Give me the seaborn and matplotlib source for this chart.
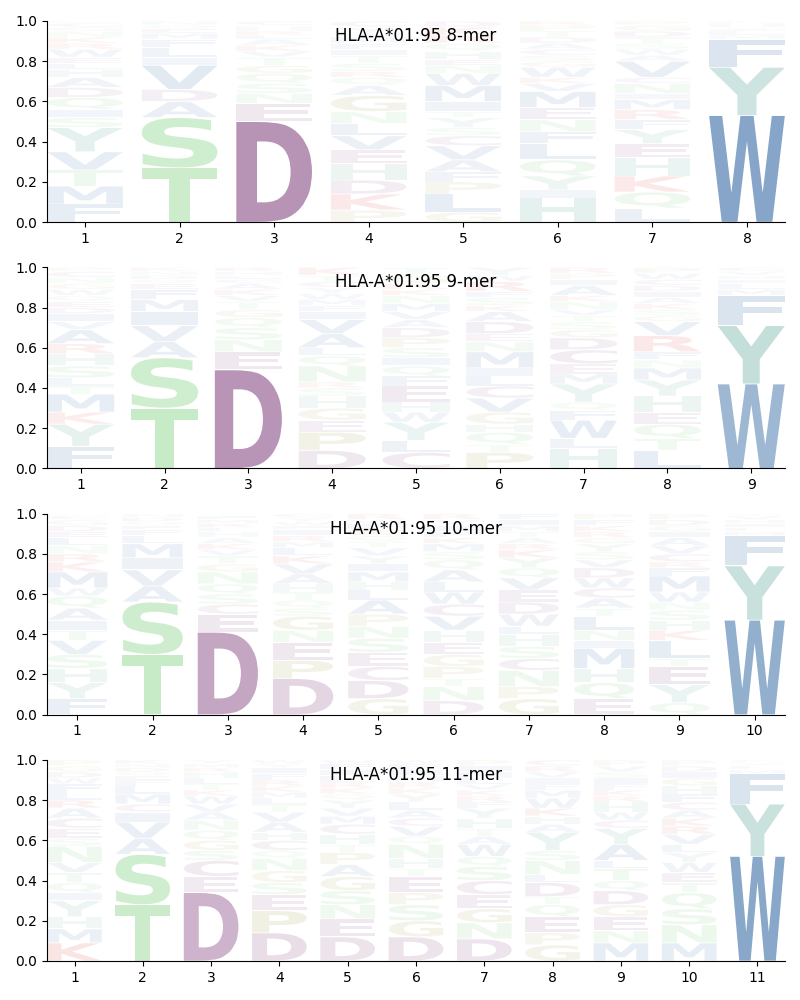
import seaborn as sns
import matplotlib
matplotlib.use("Agg")
import matplotlib.pyplot as plt
from matplotlib.textpath import TextPath
from matplotlib.font_manager import FontProperties
from matplotlib.patches import PathPatch
from matplotlib.transforms import Affine2D

# allele name and peptide lengths
allele = "HLA-A*01:95"
lengths = [8, 9, 10, 11]

# letters of each column, bottom to top, with heights in percent
letters_8 = ["FMTVYSIQDAHLEWRKNGCP", "TSADVILFMEQN", "DENSQGTVKALRHMC",
             "PKDHEVLNGAQRSTIFMWYC", "GLPFAVCSYTIMWNEHQRKD", "HIYQLFNEMVKWGSCADTPR",
             "LQKHEYFRMINCVAWSTDGP", "WYFMLIVHC"]
heights_8 = [[9, 9, 8, 9, 12, 5, 4, 6, 5, 5, 4, 3, 3, 4, 3, 3, 3, 2, 2, 1],
             [27, 25, 8, 6, 12, 4, 5, 4, 3, 2, 2, 2],
             [50, 9, 5, 5, 5, 4, 4, 3, 3, 3, 2, 2, 2, 1, 2],
             [6, 8, 7, 8, 7, 7, 6, 6, 8, 5, 4, 3, 4, 4, 3, 3, 3, 2, 3, 3],
             [5, 9, 6, 5, 6, 7, 5, 4, 5, 3, 5, 8, 6, 4, 3, 4, 4, 4, 4, 3],
             [12, 4, 7, 8, 8, 6, 6, 6, 8, 4, 3, 5, 3, 3, 3, 3, 3, 3, 3, 2],
             [7, 8, 8, 9, 7, 7, 5, 5, 5, 3, 5, 3, 8, 3, 3, 3, 3, 3, 3, 2],
             [53, 24, 14, 2, 2, 1, 1, 2, 1]]

letters_9 = ["FYKMTLSHRAVIDEQWGNCP", "TSAVIMFEQDNK", "DENSQGTVKACLHR",
             "DPEGHSRNQLAVIFMWYCTK", "CLYWHEFQISPDAVMNKRGT", "PTQHGVCLIMNEDAKSFRWY",
             "HLWFQYMECDGSTVNKAIPR", "LTQEHYMNFRVGSKAIDCWP", "WYFMLIHVC"]
heights_9 = [[11, 11, 6, 9, 4, 4, 6, 6, 5, 7, 4, 4, 3, 3, 3, 3, 3, 3, 3, 2],
             [30, 25, 8, 8, 7, 6, 5, 3, 2, 2, 2, 2],
             [49, 9, 6, 6, 5, 4, 4, 3, 3, 3, 2, 2, 2, 2],
             [9, 9, 6, 6, 6, 4, 3, 8, 5, 4, 7, 7, 4, 3, 3, 3, 3, 3, 3, 4],
             [8, 6, 9, 5, 5, 8, 5, 5, 4, 5, 5, 5, 4, 4, 4, 4, 3, 3, 4, 4],
             [8, 4, 6, 4, 6, 7, 6, 5, 4, 8, 5, 4, 6, 5, 3, 4, 3, 5, 3, 4],
             [10, 5, 9, 5, 4, 9, 5, 5, 7, 6, 4, 4, 3, 3, 4, 3, 5, 3, 3, 3],
             [9, 6, 7, 6, 8, 8, 6, 4, 4, 8, 7, 3, 3, 3, 3, 3, 3, 3, 3, 3],
             [42, 29, 15, 3, 3, 2, 2, 2, 2]]

letters_10 = ["FYHSVTIAQWMKRNLEDGCP", "TSAVIMLFEQDN", "DECSQNGTVKAHLRMFY",
              "DPENGSQTHAVKLMRIFWYC", "GDCESNPALHMIYVTQKFWR", "DNTPGEHVCWLAQSMKFIYR",
              "GPNCSHLWDEVQYKRATMIF", "EQHMINLTACWDVSYGRKFP", "QYETLKHSNWMFRCVAIGDP",
              "WYFMLIHVC"]
heights_10 = [[8, 8, 7, 7, 7, 5, 5, 6, 6, 4, 8, 5, 4, 4, 4, 3, 3, 3, 2, 1],
              [30, 26, 8, 8, 6, 7, 4, 3, 2, 2, 2, 2],
              [41, 9, 5, 5, 5, 6, 4, 4, 3, 3, 3, 3, 2, 2, 2, 2, 1],
              [18, 9, 9, 6, 7, 4, 4, 4, 4, 5, 5, 4, 4, 3, 3, 3, 2, 2, 2, 2],
              [8, 9, 7, 7, 7, 6, 6, 7, 5, 4, 5, 4, 4, 4, 3, 3, 3, 3, 2, 3],
              [7, 7, 4, 6, 6, 6, 6, 7, 6, 6, 5, 6, 5, 4, 4, 3, 3, 3, 3, 3],
              [8, 6, 8, 6, 6, 6, 4, 6, 6, 6, 6, 5, 5, 4, 3, 3, 3, 3, 3, 3],
              [8, 8, 7, 10, 4, 5, 7, 4, 5, 5, 5, 5, 4, 4, 4, 3, 3, 3, 3, 3],
              [6, 9, 9, 4, 9, 5, 5, 5, 4, 5, 8, 4, 3, 4, 4, 4, 3, 3, 3, 3],
              [47, 27, 15, 2, 2, 2, 2, 2, 1]]

letters_11 = ["KMHYIQTVNSECARLFWDGP", "TSAVICMLFEQDNK", "DECSGQNAVWKTLHRMY",
              "DPESGNQCHAVTLMKRFIYW", "DENSGAPTHCMVYQKRLIFW", "DGSPETHNQVCALYKRMIFW",
              "DNGECSQWATHYFRKVLMIP", "GPEQTDLNSYAHKWMFIVRC", "MNEGDQTLAYCWHRKFISVP",
              "MNSQTEWYLVRKACFHGIDP", "WYFMLIHC"]
heights_11 = [[9, 7, 6, 8, 4, 5, 5, 5, 8, 4, 5, 5, 5, 4, 4, 4, 3, 3, 3, 3],
              [28, 25, 8, 8, 5, 4, 5, 4, 3, 2, 2, 2, 2, 2],
              [34, 8, 8, 5, 5, 5, 5, 4, 4, 4, 3, 3, 3, 3, 2, 2, 2],
              [14, 11, 8, 6, 6, 6, 4, 5, 4, 5, 5, 4, 3, 3, 3, 3, 3, 3, 2, 2],
              [12, 9, 7, 7, 7, 6, 6, 4, 5, 5, 4, 4, 4, 3, 3, 3, 3, 3, 3, 2],
              [12, 8, 8, 6, 8, 4, 5, 7, 4, 5, 4, 4, 4, 4, 3, 3, 3, 3, 3, 2],
              [11, 8, 7, 7, 7, 7, 5, 6, 4, 4, 5, 5, 3, 3, 3, 3, 3, 3, 3, 3],
              [8, 6, 8, 6, 4, 7, 4, 7, 5, 9, 4, 4, 4, 5, 4, 3, 3, 3, 3, 3],
              [9, 6, 7, 6, 7, 5, 6, 4, 8, 8, 4, 4, 5, 3, 3, 3, 3, 3, 3, 3],
              [9, 9, 8, 8, 5, 5, 5, 5, 4, 5, 4, 4, 4, 4, 4, 4, 4, 3, 3, 3],
              [52, 26, 15, 2, 2, 1, 1, 1]]

all_letters = [letters_8, letters_9, letters_10, letters_11]
all_heights = [heights_8, heights_9, heights_10, heights_11]

# amino acid colours
blue = "#215b9b"
green = "#4ebe4e"
purple = "#742d70"
red = "#d71111"
teal = "#419886"
olive = "#8a8a20"
aa_colors = {"A": blue, "V": blue, "L": blue, "I": blue, "M": blue, "F": blue, "W": blue,
             "S": green, "T": green, "N": green, "Q": green,
             "D": purple, "E": purple, "C": purple,
             "K": red, "R": red,
             "H": teal, "Y": teal,
             "G": olive, "P": olive}

sns.set_style("ticks", {"axes.edgecolor": "black", "text.color": "black",
                        "xtick.color": "black", "ytick.color": "black"})
font = FontProperties(family="DejaVu Sans", weight="bold")


def draw_letter(ax, ch, x, y0, h, width=0.8):
    tp = TextPath((0, 0), ch, size=1, prop=font)
    bb = tp.get_extents()
    # small gap between stacked letters
    pad = 0.004
    tr = Affine2D().translate(-bb.x0, -bb.y0).scale(width / bb.width, (h - pad) / bb.height).translate(x - width / 2, y0 + pad / 2)
    path = tr.transform_path(tp)
    ax.add_patch(PathPatch(path, fc=aa_colors[ch], ec="none", alpha=min(1.0, 0.015 + h)))


fig, axes = plt.subplots(4, 1, figsize=(8, 10), dpi=100)
fig.subplots_adjust(left=0.059, right=0.981, top=0.979, bottom=0.039, hspace=0.224)

for ax, n, cols, hts in zip(axes, lengths, all_letters, all_heights):
    for i in range(n):
        y = 0.0
        for ch, h in zip(cols[i], hts[i]):
            draw_letter(ax, ch, i + 1, y, h / 100)
            y += h / 100
    ax.set_xlim(0.6, n + 0.4)
    ax.set_ylim(0, 1)
    ax.set_xticks(range(1, n + 1))
    ax.set_yticks([0, 0.2, 0.4, 0.6, 0.8, 1.0])
    ax.tick_params(labelsize=10, colors="black")
    ax.text(0.5, 0.925, f"{allele} {n}-mer", transform=ax.transAxes, ha="center", va="center",
            fontsize=12, color="black")
    sns.despine(ax=ax)

plt.savefig("out.png")
